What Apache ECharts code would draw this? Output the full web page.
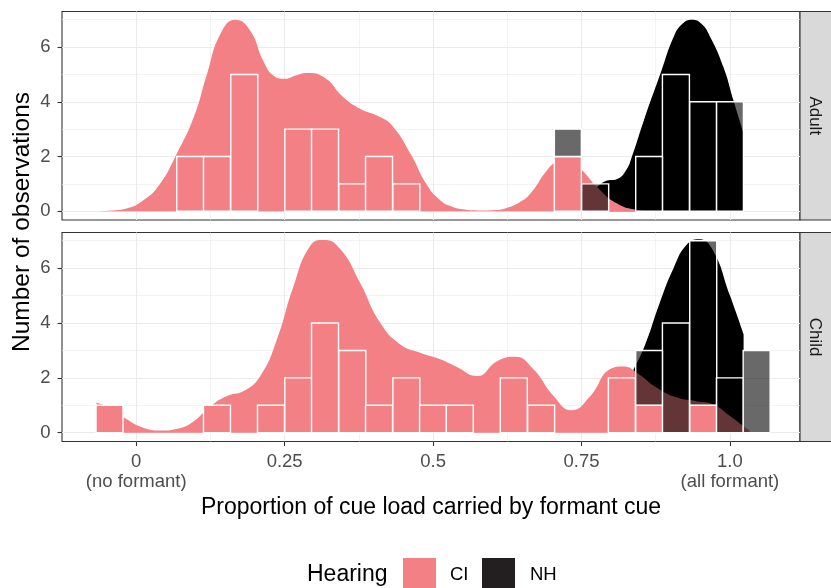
<!DOCTYPE html>
<html>
<head>
<meta charset="utf-8">
<script src="https://cdn.jsdelivr.net/npm/echarts@6/dist/echarts.min.js"></script>
<style>
  html, body { margin: 0; padding: 0; background: #fff; }
  #main { width: 831px; height: 588px; }
</style>
</head>
<body>
<div id="main"></div>
<script>
// 直方图的分箱（宽度 1/22，中心在 0 和 1 上）
const binCenters = [-0.045, 0, 0.045, 0.091, 0.136, 0.182, 0.227, 0.273, 0.318, 0.364, 0.409, 0.455,
                    0.5, 0.545, 0.591, 0.636, 0.682, 0.727, 0.773, 0.818, 0.864, 0.909, 0.955, 1.0, 1.045];
const binWidth = 0.04545;

// 每个分箱的观测数
const adultCI = [0, 0, 0, 2, 2, 5, 0, 3, 3, 1, 2, 1, 0, 0, 0, 0, 0, 2, 0, 0, 0, 0, 0, 0, 0];
const adultNH = [0, 0, 0, 0, 0, 0, 0, 0, 0, 0, 0, 0, 0, 0, 0, 0, 0, 1, 1, 0, 2, 5, 4, 4, 0];
const childCI = [1, 0, 0, 0, 1, 0, 1, 2, 4, 3, 1, 2, 1, 1, 0, 2, 1, 0, 0, 2, 1, 0, 1, 0, 0];
const childNH = [0, 0, 0, 0, 0, 0, 0, 0, 0, 0, 0, 0, 0, 0, 0, 0, 0, 0, 0, 0, 2, 4, 6, 2, 3];

// 密度曲线（按计数缩放），从图上读出来的点
const adultCIDensity = [[-0.072, 0.0], [-0.04, 0.03], [-0.016, 0.1], [0.012, 0.4], [0.04, 1.0], [0.066, 2.0],
  [0.097, 3.44], [0.119, 5.0], [0.142, 6.49], [0.167, 7.0], [0.192, 6.6], [0.214, 5.5], [0.231, 4.96],
  [0.25, 4.84], [0.27, 4.97], [0.288, 5.05], [0.316, 4.9], [0.349, 4.17], [0.377, 3.75], [0.411, 3.44],
  [0.433, 3.08], [0.462, 2.1], [0.49, 0.95], [0.512, 0.4], [0.53, 0.18], [0.55, 0.07], [0.575, 0.03],
  [0.6, 0.04], [0.624, 0.12], [0.645, 0.32], [0.664, 0.65], [0.692, 1.5], [0.71, 1.85], [0.723, 1.95],
  [0.748, 1.56], [0.776, 0.89], [0.81, 0.28], [0.843, 0.05], [0.87, 0.0]];
const adultNHDensity = [[0.74, 0.6], [0.772, 0.85], [0.79, 1.1], [0.81, 1.18], [0.825, 1.5], [0.835, 2.0],
  [0.855, 3.32], [0.883, 5.03], [0.905, 6.36], [0.92, 6.85], [0.936, 7.0], [0.952, 6.85], [0.967, 6.36],
  [0.989, 5.27], [1.006, 4.05], [1.023, 2.84]];
const childCIDensity = [[-0.067, 1.09], [-0.044, 0.91], [-0.016, 0.49], [0.012, 0.18], [0.04, 0.08],
  [0.068, 0.14], [0.097, 0.42], [0.125, 0.97], [0.153, 1.34], [0.181, 1.52], [0.209, 2.07], [0.237, 3.4],
  [0.265, 5.35], [0.293, 6.81], [0.316, 7.03], [0.344, 6.69], [0.377, 5.47], [0.411, 4.01], [0.445, 3.22],
  [0.478, 2.92], [0.512, 2.68], [0.54, 2.4], [0.574, 2.07], [0.608, 2.61], [0.638, 2.77], [0.669, 2.31],
  [0.703, 1.34], [0.733, 0.82], [0.765, 1.34], [0.798, 2.31], [0.821, 2.41], [0.843, 2.19], [0.877, 1.64],
  [0.911, 1.28], [0.944, 1.15], [0.972, 1.03], [1.0, 0.61], [1.023, 0.24], [1.035, 0.05]];
const childNHDensity = [[0.8375, 2.3], [0.857, 3.2], [0.882, 4.75], [0.905, 6.0], [0.927, 6.85], [0.947, 7.05],
  [0.97, 6.7], [1.0, 5.0], [1.023, 3.59]];

// 刻度
const xMajor = [0, 0.25, 0.5, 0.75, 1];
const xMinor = [0.125, 0.375, 0.625, 0.875];
const xTickLabels = ['0\n(no formant)', '0.25', '0.5', '0.75', '1.0\n(all formant)'];
const yMajor = [0, 2, 4, 6];
const yMinor = [1, 3, 5, 7];
const facetNames = ['Adult', 'Child'];

const PINK = '#F28085';
const NH_BAR = 'rgba(0,0,0,0.59)';
const FONT = 'Liberation Sans, Arial, Helvetica, sans-serif';

var chart = echarts.init(document.getElementById('main'));

const panels = [{ top: 11.5, height: 208.5 }, { top: 232.5, height: 209 }];
const xMin = -0.125, xMax = 1.118, yMin = -0.32, yMax = 7.3;

var grids = [], xAxes = [], yAxes = [], series = [], graphics = [];

panels.forEach(function (p, i) {
    grids.push({ left: 62, top: p.top, width: 738, height: p.height, show: true,
        backgroundColor: '#fff', borderColor: '#333', borderWidth: 1.1 });

    // 次网格线
    xAxes.push({ type: 'value', gridIndex: i, position: 'bottom', offset: 0, min: xMin, max: xMax,
        axisLine: { show: false, onZero: false }, axisLabel: { show: false },
        axisTick: { show: false, customValues: xMinor },
        splitLine: { show: true, lineStyle: { color: '#EBEBEB', width: 0.6 } } });
    // 主网格线 + 刻度
    xAxes.push({ type: 'value', gridIndex: i, position: 'bottom', offset: 0, min: xMin, max: xMax,
        axisLine: { show: false, onZero: false },
        axisTick: { show: i === 1, customValues: xMajor, length: 4.5, lineStyle: { color: '#333', width: 1.1 } },
        axisLabel: { show: i === 1, customValues: xMajor, margin: 10, fontSize: 18.5, lineHeight: 20,
            color: '#4D4D4D', fontFamily: FONT,
            formatter: function (v) { return xTickLabels[xMajor.indexOf(+(+v).toFixed(2))] || ''; } },
        splitLine: { show: true, lineStyle: { color: '#EBEBEB', width: 1.1 } },
        name: i === 1 ? 'Proportion of cue load carried by formant cue' : '',
        nameLocation: 'middle', nameGap: 55,
        nameTextStyle: { fontSize: 23, color: '#000', fontFamily: FONT } });

    yAxes.push({ type: 'value', gridIndex: i, position: 'left', offset: 0, min: yMin, max: yMax,
        axisLine: { show: false, onZero: false }, axisLabel: { show: false },
        axisTick: { show: false, customValues: yMinor },
        splitLine: { show: true, lineStyle: { color: '#EBEBEB', width: 0.6 } } });
    yAxes.push({ type: 'value', gridIndex: i, position: 'left', offset: 0, min: yMin, max: yMax,
        axisLine: { show: false, onZero: false },
        axisTick: { show: true, customValues: yMajor, length: 4.5, lineStyle: { color: '#333', width: 1.1 } },
        axisLabel: { show: true, customValues: yMajor, margin: 11.5, fontSize: 18.5, color: '#4D4D4D', fontFamily: FONT },
        splitLine: { show: true, lineStyle: { color: '#EBEBEB', width: 1.1 } } });

    // 分面标签条
    graphics.push({ type: 'rect', shape: { x: 800, y: p.top, width: 32, height: p.height },
        style: { fill: '#D9D9D9', stroke: '#333', lineWidth: 1.1 } });
    graphics.push({ type: 'text', x: 815, y: p.top + p.height / 2, rotation: -Math.PI / 2,
        style: { text: facetNames[i], fontSize: 17, fontFamily: FONT, fill: '#1A1A1A',
            align: 'center', verticalAlign: 'middle' } });
});

function densitySeries(i, data, color, z) {
    return { type: 'line', xAxisIndex: 2 * i + 1, yAxisIndex: 2 * i + 1, data: data, z: z,
        smooth: 0.5, symbol: 'none', silent: true,
        lineStyle: { width: 0 }, areaStyle: { color: color, opacity: 1 } };
}

function barSeries(i, counts, base, fill, z) {
    var data = [];
    binCenters.forEach(function (c, k) {
        if (counts[k] > 0) data.push([c, base ? base[k] : 0, counts[k]]);
    });
    return { type: 'custom', xAxisIndex: 2 * i + 1, yAxisIndex: 2 * i + 1, z: z, silent: true,
        data: data, encode: { x: 0, y: 2 },
        renderItem: function (params, api) {
            var c = api.value(0), b = api.value(1), n = api.value(2);
            var p0 = api.coord([c - binWidth / 2, b + n]);
            var p1 = api.coord([c + binWidth / 2, b]);
            return { type: 'rect',
                shape: { x: p0[0], y: p0[1], width: p1[0] - p0[0], height: p1[1] - p0[1] },
                style: { fill: fill, stroke: '#fff', lineWidth: 1.4 } };
        } };
}

series.push(densitySeries(0, adultNHDensity, '#000', 2));
series.push(densitySeries(0, adultCIDensity, PINK, 3));
series.push(barSeries(0, adultCI, null, PINK, 4));
series.push(barSeries(0, adultNH, adultCI, NH_BAR, 4));
series.push(densitySeries(1, childNHDensity, '#000', 2));
series.push(densitySeries(1, childCIDensity, PINK, 3));
series.push(barSeries(1, childCI, null, PINK, 4));
series.push(barSeries(1, childNH, childCI, NH_BAR, 4));

// y 轴标题 + 图例
graphics.push({ type: 'text', x: 22, y: 222, rotation: Math.PI / 2,
    style: { text: 'Number of observations', fontSize: 24.5, fontFamily: FONT, fill: '#000',
        align: 'center', verticalAlign: 'middle' } });
graphics.push({ type: 'text', x: 307, y: 575,
    style: { text: 'Hearing', fontSize: 23, fontFamily: FONT, fill: '#000', verticalAlign: 'middle' } });
graphics.push({ type: 'rect', shape: { x: 403, y: 558, width: 33, height: 34 }, style: { fill: PINK } });
graphics.push({ type: 'text', x: 450, y: 575,
    style: { text: 'CI', fontSize: 18.5, fontFamily: FONT, fill: '#000', verticalAlign: 'middle' } });
graphics.push({ type: 'rect', shape: { x: 482, y: 558, width: 33, height: 34 }, style: { fill: '#231F20' } });
graphics.push({ type: 'text', x: 530, y: 575,
    style: { text: 'NH', fontSize: 18.5, fontFamily: FONT, fill: '#000', verticalAlign: 'middle' } });

var option = {
    animation: false,
    backgroundColor: '#fff',
    grid: grids,
    xAxis: xAxes,
    yAxis: yAxes,
    series: series,
    graphic: graphics
};
chart.setOption(option);
</script>
</body>
</html>
